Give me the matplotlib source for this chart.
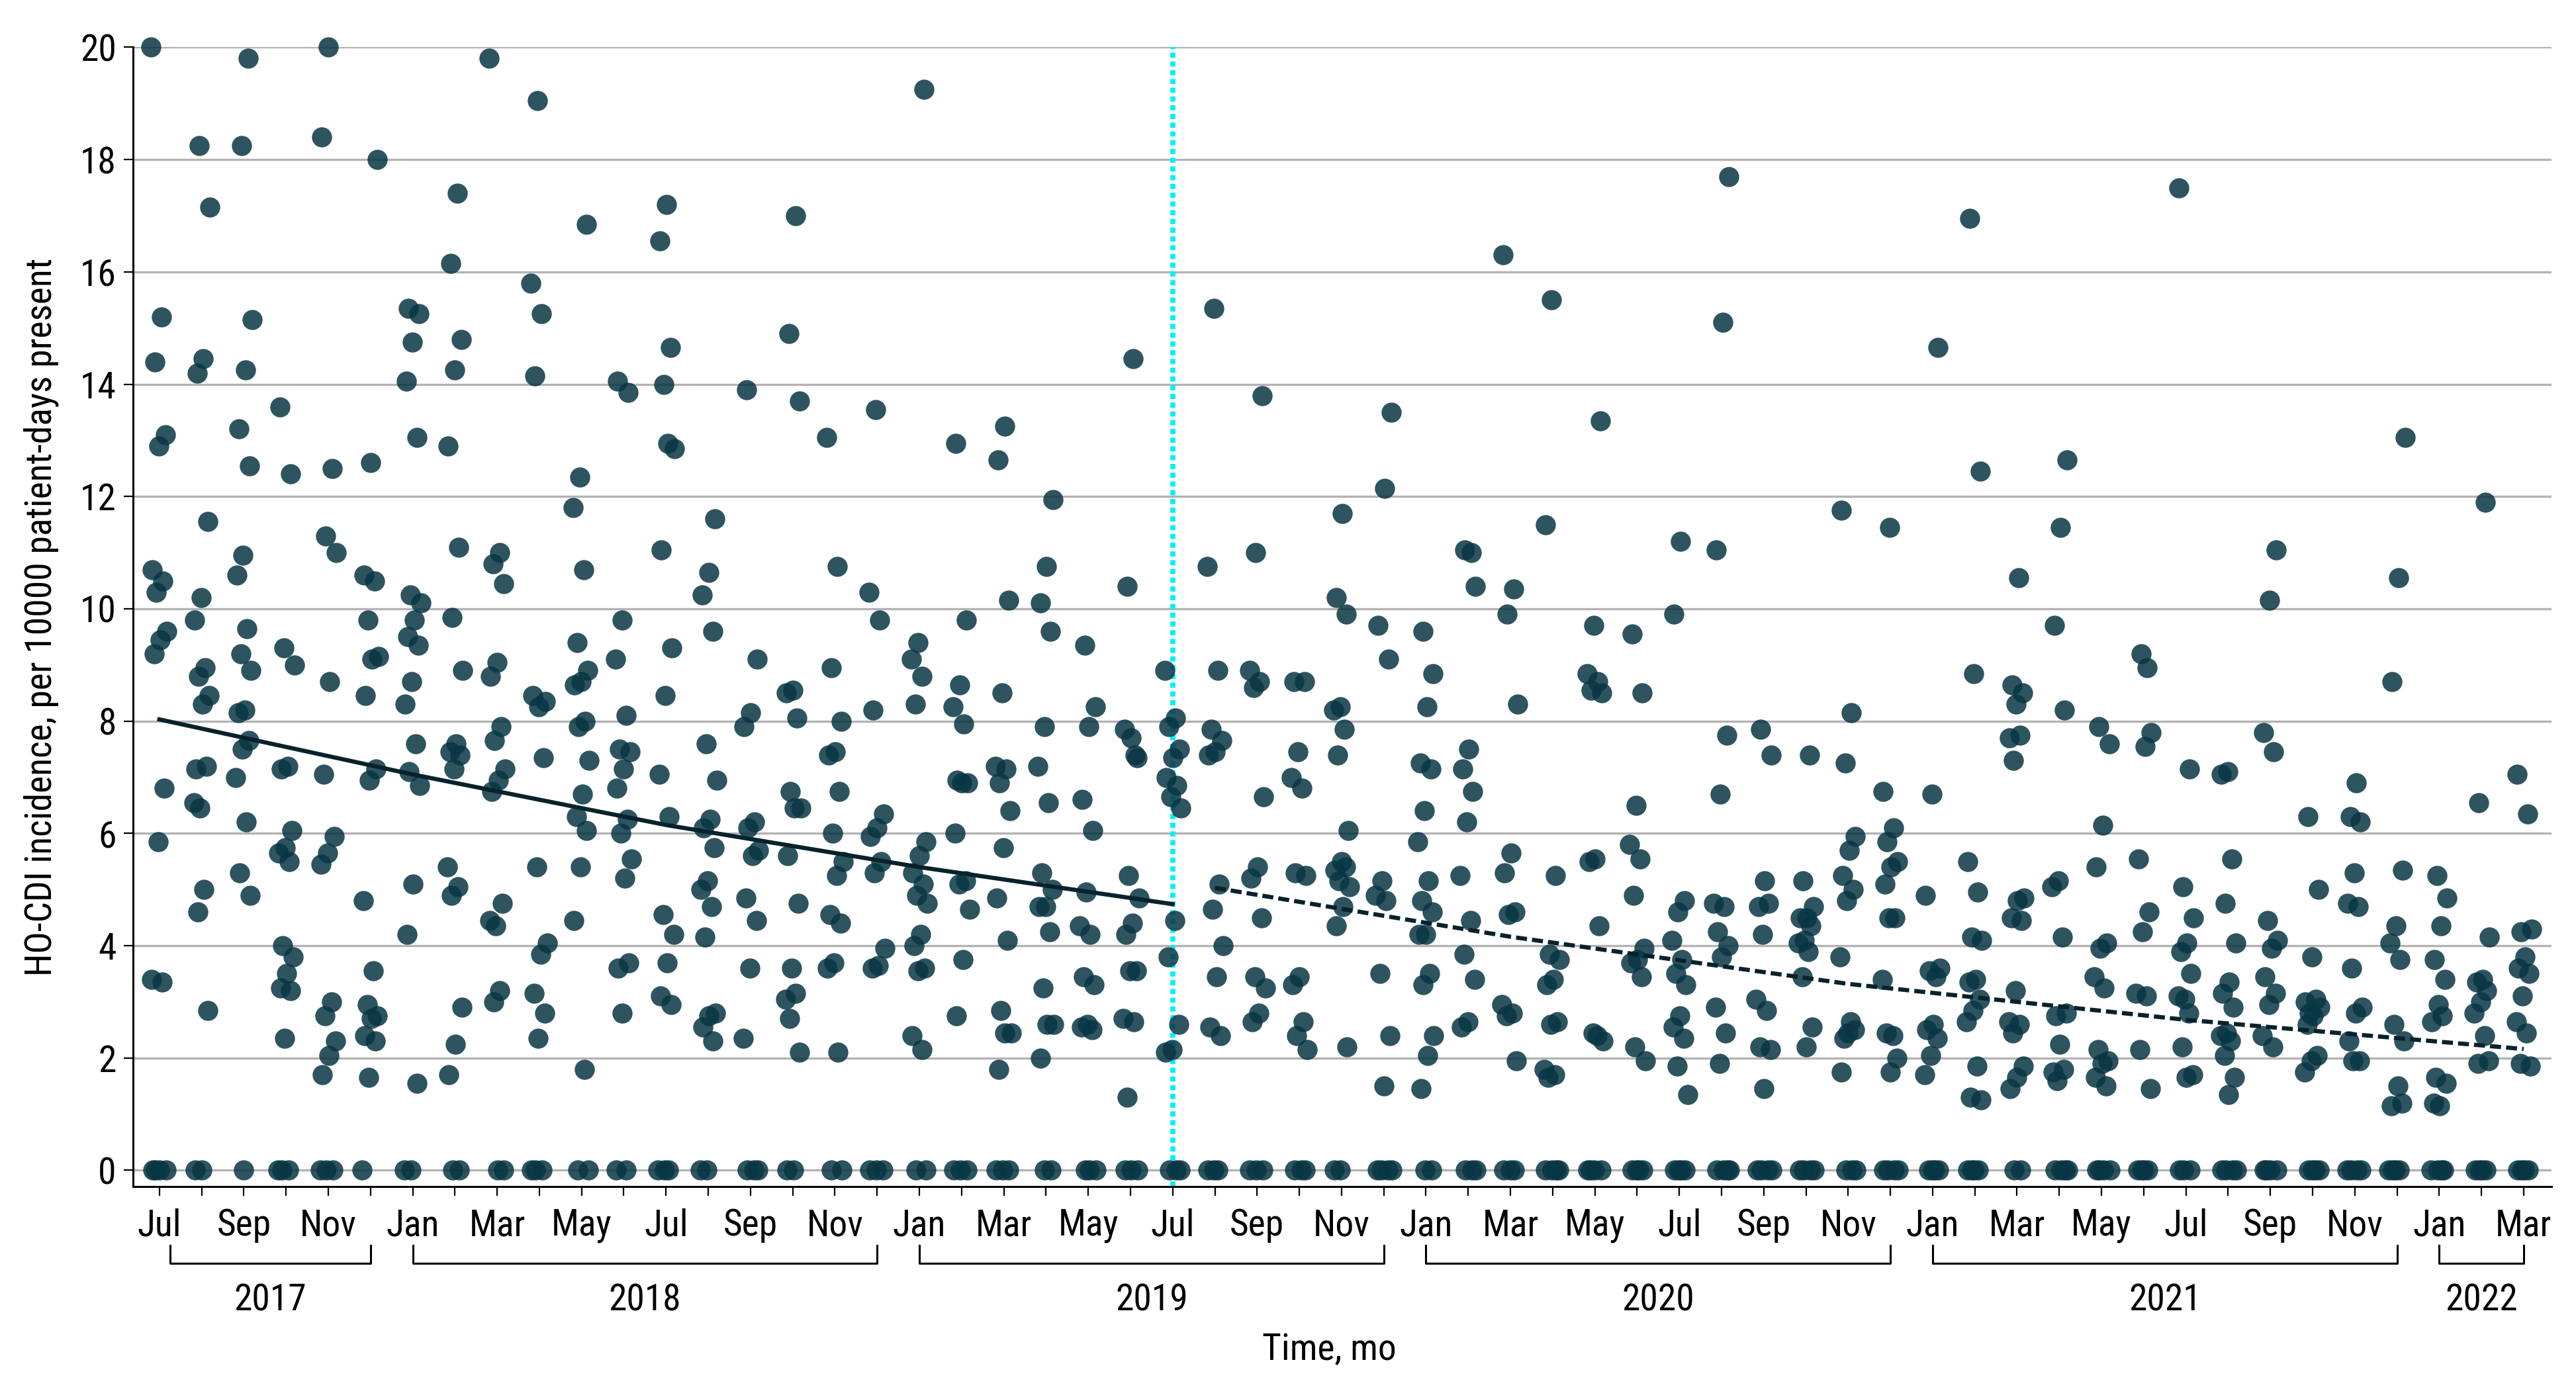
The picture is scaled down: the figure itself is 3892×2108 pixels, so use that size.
"""HO-CDI monthly incidence per unit, with segmented trend lines."""

import matplotlib

matplotlib.use("Agg")
import matplotlib.pyplot as plt
import matplotlib.transforms as mtransforms
from matplotlib import font_manager
import numpy as np
import pandas as pd

# narrow sans if one is installed, else condensed DejaVu, else plain DejaVu
installed = {f.name for f in font_manager.fontManager.ttflist}
family = [n for n in ("Liberation Sans Narrow", "Roboto Condensed",
                      "Open Sans Condensed", "DejaVu Sans Condensed")
          if n in installed]
plt.rcParams["font.family"] = family + ["DejaVu Sans"]
plt.rcParams["font.stretch"] = "condensed"

# Unit-level incidence per month (one inner list per month).
rates_2017 = [
    [20.0, 15.2, 14.4, 13.1, 12.9, 10.7, 10.5, 10.3, 9.6, 9.45, 9.2, 6.8, 5.85, 3.4, 3.35, 0, 0, 0, 0],
    [18.25, 17.15, 14.45, 14.2, 11.55, 10.2, 9.8, 8.95, 8.8, 8.45, 8.3, 7.15, 7.2, 6.45, 6.55, 5.0, 4.6, 2.85, 0, 0],
    [19.8, 18.25, 15.15, 14.25, 13.2, 12.55, 10.95, 10.6, 9.65, 9.2, 8.9, 8.2, 8.15, 7.65, 7.5, 7.0, 6.2, 5.3, 4.9, 0],
    [13.6, 12.4, 9.3, 9.0, 7.2, 7.15, 6.05, 5.75, 5.65, 5.5, 4.0, 3.8, 3.5, 3.25, 3.2, 2.35, 0, 0, 0],
    [20.0, 18.4, 12.5, 11.3, 11.0, 8.7, 7.05, 5.95, 5.65, 5.45, 3.0, 2.75, 2.3, 2.05, 1.7, 0, 0, 0],
    [18.0, 12.6, 10.6, 10.5, 9.8, 9.15, 9.1, 8.45, 7.15, 6.95, 4.8, 3.55, 2.95, 2.75, 2.7, 2.4, 2.3, 1.65, 0],
]
rates_2018 = [
    [15.35, 15.25, 14.75, 14.05, 13.05, 10.25, 10.1, 9.8, 9.5, 9.35, 8.7, 8.3, 7.6, 7.1, 6.85, 5.1, 4.2, 1.55, 0, 0],
    [17.4, 16.15, 14.8, 14.25, 12.9, 11.1, 9.85, 8.9, 7.6, 7.45, 7.4, 7.15, 5.4, 5.05, 4.9, 2.9, 2.25, 1.7, 0, 0],
    [19.8, 11.0, 10.8, 10.45, 9.05, 8.8, 7.9, 7.65, 7.15, 6.95, 6.75, 4.75, 4.35, 4.45, 3.2, 3.0, 0, 0],
    [19.05, 15.8, 15.25, 14.15, 8.35, 8.25, 8.45, 7.35, 5.4, 4.05, 3.85, 3.15, 2.8, 2.35, 0, 0, 0],
    [16.85, 12.35, 11.8, 10.7, 9.4, 8.9, 8.7, 8.65, 8.0, 7.9, 7.3, 6.7, 6.3, 6.05, 5.4, 4.45, 1.8, 0, 0],
    [14.05, 13.85, 9.8, 9.1, 8.1, 7.5, 7.45, 7.15, 6.8, 6.25, 6.0, 5.55, 5.2, 3.6, 3.7, 2.8, 0, 0],
    [17.2, 16.55, 14.65, 14.0, 12.85, 12.95, 11.05, 9.3, 8.45, 7.05, 6.3, 4.55, 4.2, 3.7, 3.1, 2.95, 0, 0, 0],
    [11.6, 10.65, 10.25, 9.6, 7.6, 6.95, 6.25, 6.1, 5.75, 5.15, 5.0, 4.7, 4.15, 2.8, 2.75, 2.55, 2.3, 0, 0],
    [13.9, 9.1, 8.15, 7.9, 6.2, 6.1, 5.7, 5.6, 4.85, 4.45, 3.6, 2.35, 0, 0, 0],
    [17.0, 14.9, 13.7, 8.55, 8.5, 8.05, 6.75, 6.45, 6.45, 5.6, 4.75, 3.6, 3.05, 3.15, 2.7, 2.1, 0, 0],
    [13.05, 10.75, 8.95, 8.0, 7.45, 7.4, 6.75, 6.0, 5.5, 5.25, 4.55, 4.4, 3.7, 3.6, 2.1, 0, 0],
    [13.55, 10.3, 9.8, 8.2, 6.35, 6.1, 5.95, 5.5, 5.3, 3.95, 3.65, 3.6, 0, 0, 0],
]
rates_2019 = [
    [19.25, 9.4, 9.1, 8.8, 8.3, 5.85, 5.6, 5.3, 5.1, 4.9, 4.75, 4.2, 4.0, 3.6, 3.55, 2.4, 2.15, 0, 0],
    [12.95, 9.8, 8.65, 8.25, 7.95, 6.95, 6.9, 6.9, 6.0, 5.15, 5.1, 4.65, 3.75, 2.75, 0, 0, 0],
    [13.25, 12.65, 10.15, 8.5, 7.2, 7.15, 6.9, 6.4, 5.75, 4.85, 4.1, 2.85, 2.45, 2.45, 1.8, 0, 0, 0],
    [11.95, 10.75, 10.1, 9.6, 7.9, 7.2, 6.55, 5.3, 5.0, 4.7, 4.7, 4.25, 3.25, 2.6, 2.6, 2.0, 0, 0],
    [9.35, 8.25, 7.9, 6.6, 6.05, 4.95, 4.35, 4.2, 3.45, 3.3, 2.6, 2.55, 2.5, 0, 0, 0],
    [14.45, 10.4, 7.35, 7.7, 7.85, 7.4, 5.25, 4.85, 4.4, 4.2, 3.55, 3.55, 2.7, 2.65, 1.3, 0, 0, 0],
    [8.9, 8.05, 7.9, 7.5, 7.35, 7.0, 6.85, 6.65, 6.45, 4.45, 3.8, 2.6, 2.15, 2.1, 0, 0, 0],
    [15.35, 10.75, 8.9, 7.85, 7.65, 7.45, 7.4, 5.1, 4.65, 4.0, 3.45, 2.55, 2.4, 0, 0, 0],
    [13.8, 11.0, 8.9, 8.7, 8.6, 6.65, 5.4, 5.2, 4.5, 3.45, 3.25, 2.8, 2.65, 0, 0, 0],
    [8.7, 8.7, 7.45, 7.0, 6.8, 5.3, 5.25, 3.45, 3.3, 2.65, 2.4, 2.15, 0, 0, 0],
    [11.7, 10.2, 9.9, 8.25, 8.2, 7.85, 7.4, 6.05, 5.5, 5.35, 5.4, 5.15, 5.05, 4.7, 4.35, 2.2, 0, 0],
    [13.5, 12.15, 9.7, 9.1, 5.15, 4.9, 4.8, 3.5, 2.4, 1.5, 0, 0, 0, 0],
]
rates_2020 = [
    [9.6, 8.85, 8.25, 7.25, 7.15, 6.4, 5.85, 5.15, 4.8, 4.6, 4.2, 4.2, 3.5, 3.3, 2.4, 2.05, 1.45, 0, 0],
    [11.0, 11.05, 10.4, 7.5, 7.15, 6.75, 6.2, 5.25, 4.45, 3.85, 3.4, 2.65, 2.55, 0, 0, 0],
    [16.3, 10.35, 9.9, 8.3, 5.65, 5.3, 4.6, 4.55, 2.95, 2.8, 2.75, 1.95, 0, 0, 0],
    [15.5, 11.5, 5.25, 3.85, 3.75, 3.4, 3.3, 2.65, 2.6, 1.8, 1.7, 1.65, 0, 0, 0, 0],
    [13.35, 9.7, 8.85, 8.7, 8.55, 8.5, 5.55, 5.5, 4.35, 2.45, 2.3, 2.4, 0, 0, 0, 0],
    [9.55, 8.5, 6.5, 5.8, 5.55, 4.9, 3.95, 3.75, 3.7, 3.45, 2.2, 1.95, 0, 0, 0, 0],
    [11.2, 9.9, 4.8, 4.6, 4.1, 3.75, 3.5, 3.3, 2.75, 2.55, 2.35, 1.85, 1.35, 0, 0, 0, 0],
    [17.7, 15.1, 11.05, 7.75, 6.7, 4.75, 4.7, 4.25, 4.0, 3.8, 2.9, 2.45, 1.9, 0, 0, 0, 0],
    [7.85, 7.4, 5.15, 4.7, 4.75, 4.2, 3.05, 2.85, 2.2, 2.15, 1.45, 0, 0, 0, 0],
    [7.4, 5.15, 4.7, 4.5, 4.5, 4.35, 4.1, 4.05, 3.9, 3.45, 2.55, 2.2, 0, 0, 0, 0],
    [11.75, 8.15, 7.25, 5.95, 5.7, 5.25, 5.0, 4.8, 3.8, 2.65, 2.35, 2.5, 2.45, 1.75, 0, 0, 0],
    [11.45, 6.75, 6.1, 5.85, 5.5, 5.4, 5.1, 4.5, 4.5, 3.4, 2.4, 2.45, 2.0, 1.75, 0, 0, 0, 0],
]
rates_2021 = [
    [14.65, 6.7, 4.9, 3.45, 3.55, 3.6, 2.6, 2.5, 2.35, 2.05, 1.7, 0, 0, 0, 0],
    [16.95, 12.45, 8.85, 5.5, 4.95, 4.15, 4.1, 3.4, 3.35, 3.05, 2.85, 2.65, 1.85, 1.3, 1.25, 0, 0, 0, 0],
    [10.55, 8.65, 8.5, 8.3, 7.7, 7.75, 7.3, 4.85, 4.8, 4.5, 4.45, 3.2, 2.65, 2.6, 2.45, 1.85, 1.65, 1.45, 0, 0],
    [12.65, 11.45, 9.7, 8.2, 5.15, 5.05, 4.15, 2.75, 2.8, 2.25, 1.75, 1.8, 1.6, 0, 0, 0, 0],
    [7.9, 7.6, 6.15, 5.4, 4.05, 3.95, 3.45, 3.25, 2.15, 1.95, 1.9, 1.65, 1.5, 0, 0, 0, 0],
    [8.95, 9.2, 7.8, 7.55, 5.55, 4.6, 4.25, 3.15, 3.1, 2.15, 1.45, 0, 0, 0, 0],
    [17.5, 7.15, 5.05, 4.5, 4.05, 3.9, 3.5, 3.05, 3.1, 2.8, 2.2, 1.7, 1.65, 0, 0, 0],
    [7.1, 7.05, 5.55, 4.75, 4.05, 3.35, 3.15, 2.9, 2.45, 2.4, 2.3, 2.05, 1.65, 1.35, 0, 0, 0, 0],
    [11.05, 10.15, 7.8, 7.45, 4.45, 4.1, 3.95, 3.45, 3.15, 2.95, 2.4, 2.2, 0, 0, 0, 0],
    [6.3, 5.0, 3.8, 3.0, 3.05, 2.8, 2.9, 2.75, 2.6, 2.05, 1.95, 1.75, 0, 0, 0, 0],
    [6.9, 6.3, 6.2, 5.3, 4.75, 4.7, 3.6, 2.9, 2.8, 2.3, 1.95, 1.95, 0, 0, 0, 0],
    [13.05, 10.55, 8.7, 5.35, 4.35, 4.05, 3.75, 2.6, 2.3, 1.5, 1.15, 1.2, 0, 0, 0, 0],
]
rates_2022 = [
    [5.25, 4.85, 4.35, 3.75, 3.4, 2.95, 2.65, 2.75, 1.65, 1.55, 1.15, 1.2, 0, 0, 0, 0],
    [11.9, 6.55, 4.15, 3.4, 3.35, 3.2, 3.0, 2.8, 2.4, 1.9, 1.95, 0, 0, 0, 0],
    [7.05, 6.35, 4.25, 4.3, 3.8, 3.6, 3.5, 3.1, 2.65, 2.45, 1.9, 1.85, 0, 0, 0, 0],
]

# Segmented regression fit (month index from Jul 2017).
pre_months = [0, 6, 12, 18, 24]
pre_trend = [8.03, 7.05, 6.15, 5.40, 4.74]
post_months = [25, 32, 40, 48, 56]
post_trend = [5.03, 4.16, 3.32, 2.68, 2.16]
intervention_month = 24  # Jul 2019

POINT = "#093644"
LINE = "#08222b"
FS = 20

monthly = rates_2017 + rates_2018 + rates_2019 + rates_2020 + rates_2021 + rates_2022
dates = pd.date_range("2017-07-01", periods=len(monthly), freq="MS")

fig = plt.figure(figsize=(19.46, 10.54), dpi=200)
ax = fig.add_axes([0.0516, 0.1494, 0.9389, 0.8167])

# deterministic jitter within each month column
xs, ys = [], []
for k, vals in enumerate(monthly):
    for i, v in enumerate(vals):
        frac = (i * 0.6180339 + k * 0.377) % 1.0
        xs.append(k + 0.2 * (2 * frac - 1))
        ys.append(v)
ax.scatter(xs, ys, s=120, color=POINT, alpha=0.85, linewidths=0,
           zorder=3, clip_on=False)

ax.axvline(intervention_month, color="#00f0ff", lw=2.8,
           ls=(0, (1, 0.7)), zorder=2)
ax.plot(pre_months, pre_trend, color=LINE, lw=2.3, zorder=4)
ax.plot(post_months, post_trend, color=LINE, lw=2.3, ls=(0, (2.6, 1.2)), zorder=4)

ax.set_xlim(-0.627, len(monthly) - 1 + 0.66)
ax.set_ylim(-0.29, 20)
ax.set_yticks(range(0, 21, 2))
ax.yaxis.grid(True, color="#b3b3b3", lw=1.2)
ax.set_axisbelow(True)

ax.set_xticks(np.arange(len(monthly)))
ax.set_xticklabels([d.strftime("%b") if k % 2 == 0 else ""
                    for k, d in enumerate(dates)])

for side in ("top", "right"):
    ax.spines[side].set_visible(False)
for side in ("left", "bottom"):
    ax.spines[side].set_linewidth(1.1)
ax.tick_params(axis="both", direction="out", length=5, width=0.8,
               labelsize=FS, colors="black")
ax.tick_params(axis="y", pad=4)
ax.tick_params(axis="x", pad=6.5)

# year brackets under the month labels
trans = mtransforms.blended_transform_factory(ax.transData, ax.transAxes)
for yr in sorted(set(dates.year)):
    idx = np.where(dates.year == yr)[0]
    lo, hi = idx.min(), idx.max()
    if lo == 0:
        lo = 0.25  # first bracket starts just right of the first tick
    ax.plot([lo, lo, hi, hi], [-0.0517, -0.0674, -0.0674, -0.0517],
            transform=trans, color="black", lw=1.1, clip_on=False)
    ax.text((lo + hi) / 2, -0.109, str(yr), transform=trans, ha="center",
            va="baseline", fontsize=FS)

ax.text(0.4947, -0.152, "Time, mo", transform=ax.transAxes, ha="center",
        va="baseline", fontsize=FS)
ax.text(-0.038, 0.5, "HO-CDI incidence, per 10000 patient-days present",
        transform=ax.transAxes, rotation=90, ha="center", va="center",
        fontsize=FS)

fig.savefig("out.png", dpi=200)
plt.close(fig)
